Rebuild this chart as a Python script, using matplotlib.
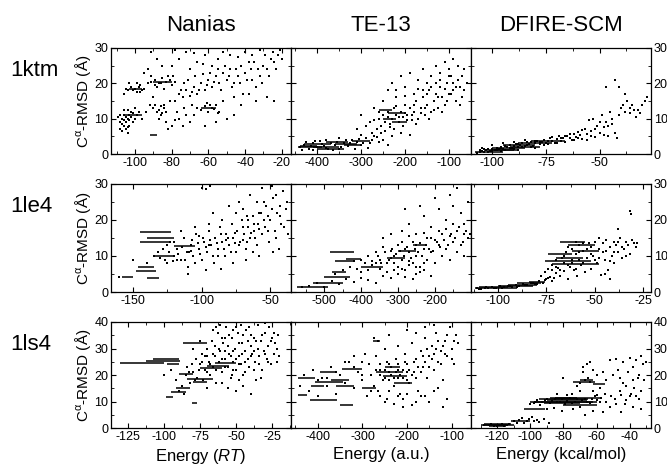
import numpy as np
import matplotlib
matplotlib.use("Agg")
import matplotlib.pyplot as plt
from matplotlib.ticker import AutoMinorLocator, MultipleLocator

plt.rcParams['font.family'] = ['Liberation Sans', 'DejaVu Sans']
plt.rcParams['mathtext.fontset'] = 'custom'
plt.rcParams['mathtext.rm'] = 'Liberation Sans'
plt.rcParams['mathtext.it'] = 'Liberation Sans:italic'
plt.rcParams['axes.unicode_minus'] = False

# column / row names
methods = ["Nanias", "TE-13", "DFIRE-SCM"]
proteins = ["1ktm", "1le4", "1ls4"]
x_titles = ["Energy ($\\it{RT}$)", "Energy (a.u.)", "Energy (kcal/mol)"]

# (energy, rmsd) decoys, streaks are (x_start, x_end, rmsd)
nanias_1ktm = [
    (-108, 7), (-107, 6.5), (-106, 8), (-105, 9), (-104, 10), (-103, 11), (-106, 11), (-108, 11),
    (-102, 12), (-104, 12.5), (-101, 9), (-100, 10), (-99, 11), (-105, 7), (-103, 8), (-107, 10),
    (-109, 10.5), (-100, 13), (-98, 12), (-106, 17), (-104, 18), (-102, 19), (-100, 18.5), (-98, 19),
    (-97, 17.5), (-103, 20), (-105, 18.5), (-99, 20), (-96, 18), (-95, 23), (-93, 24), (-91, 22),
    (-89, 21), (-87, 20), (-85, 21.5), (-83, 20.5), (-81, 21), (-79, 22), (-88, 19), (-84, 18.5),
    (-80, 19.5), (-92, 14), (-90, 13), (-88, 12), (-86, 13.5), (-84, 14), (-85, 11.5), (-87, 10),
    (-83, 9), (-80, 8), (-78, 9.5), (-76, 10), (-82, 7), (-74, 8), (-72, 11), (-70, 9), (-90, 16),
    (-94, 12), (-96, 10), (-78, 15), (-76, 17), (-74, 16), (-72, 18), (-70, 16.5), (-68, 19), (-66, 17),
    (-64, 20), (-62, 18), (-60, 21), (-58, 19), (-56, 22), (-54, 20), (-52, 23), (-50, 21), (-48, 24),
    (-46, 20), (-44, 22), (-42, 25), (-40, 23), (-38, 26), (-36, 21), (-34, 19), (-32, 22), (-30, 25),
    (-28, 24), (-26, 27), (-24, 26), (-22, 28), (-20, 27), (-80, 25), (-76, 27), (-72, 29), (-70, 24),
    (-66, 26), (-62, 28), (-58, 25), (-55, 27), (-52, 29), (-48, 28), (-44, 27.5), (-40, 29), (-36, 28),
    (-32, 29.5), (-66, 13), (-64, 12.5), (-62, 13.5), (-60, 12), (-58, 13), (-56, 14), (-54, 12),
    (-68, 11), (-52, 15), (-50, 10), (-46, 16), (-42, 14), (-38, 17), (-34, 15), (-28, 16), (-24, 15),
    (-46, 11), (-62, 8), (-56, 9),
    (-107, 8.5), (-106, 9.5), (-105, 10.5), (-104, 7.5), (-103, 9.5), (-102, 10.5), (-101, 11.5),
    (-108, 9), (-106, 12.5), (-104, 6), (-101, 18), (-99, 17.5), (-97, 19.5), (-95, 18.5), (-93, 20),
    (-91, 20.5), (-89, 19.5), (-86, 20), (-82, 22), (-78, 20.5), (-87, 12.5), (-86, 11), (-84, 13),
    (-83, 12), (-89, 14), (-75, 18), (-73, 20), (-71, 21), (-69, 17.5), (-67, 22), (-65, 18),
    (-63, 22.5), (-61, 19.5), (-59, 23), (-57, 20.5), (-55, 24), (-53, 18), (-51, 25), (-49, 22),
    (-47, 19), (-45, 24), (-43, 20), (-41, 17), (-39, 21), (-37, 24), (-35, 26), (-33, 24), (-31, 20),
    (-29, 28), (-27, 22), (-25, 29), (-23, 24), (-21, 29.5), (-81, 15), (-77, 12), (-73, 13), (-69, 14),
    (-85, 25), (-88, 27), (-91, 29), (-78, 29.5), (-68, 28.5), (-63, 25.5), (-59, 13.8), (-57, 12.6),
    (-61, 14.4), (-55, 11.5),
]
nanias_1ktm_streaks = [(-92, -88, 5.5), (-106, -96, 11), (-103, -96, 18.5), (-90, -80, 20.5), (-64, -56, 13)]

te13_1ktm = [
    (-440, 2), (-430, 2.5), (-420, 1.5), (-410, 3), (-400, 2), (-390, 2.8), (-380, 1.8), (-370, 3.2),
    (-360, 2.5), (-350, 1.5), (-340, 3), (-330, 2.2), (-320, 4), (-310, 3.5), (-300, 2.5), (-290, 4.5),
    (-280, 3), (-270, 5), (-260, 3.5), (-250, 4), (-300, 5.5), (-380, 4), (-350, 4.5), (-410, 1),
    (-425, 3.5), (-395, 3.8), (-365, 1), (-315, 1.5), (-285, 1.8), (-240, 2.5), (-290, 8), (-280, 9),
    (-275, 6), (-265, 7), (-260, 10), (-255, 8), (-250, 11), (-245, 9), (-240, 12), (-235, 7.5),
    (-230, 10), (-225, 13), (-220, 11), (-215, 9), (-210, 12), (-205, 10.5), (-200, 14), (-195, 11),
    (-190, 13), (-185, 9.5), (-180, 12), (-175, 15), (-170, 10), (-165, 13), (-160, 16), (-155, 11),
    (-150, 14), (-145, 18), (-140, 12), (-135, 15), (-130, 17), (-125, 13), (-120, 19), (-115, 16),
    (-110, 14), (-105, 20), (-100, 17), (-95, 22), (-90, 18), (-85, 15), (-80, 21), (-75, 19), (-70, 16),
    (-65, 24), (-60, 20), (-250, 15), (-240, 18), (-230, 20), (-220, 16), (-210, 22), (-200, 19),
    (-190, 23), (-180, 17), (-170, 21), (-160, 24), (-150, 20), (-140, 22), (-130, 25), (-120, 23),
    (-110, 26), (-100, 24), (-90, 27), (-80, 25), (-230, 5), (-210, 6), (-190, 5.5), (-300, 11),
    (-310, 7), (-270, 13),
    (-435, 1.2), (-415, 2.2), (-405, 3.6), (-385, 2.4), (-375, 1.3), (-355, 3.5), (-345, 2.0),
    (-335, 4.0), (-325, 3.0), (-305, 4.2), (-295, 3.2), (-275, 4.0), (-265, 4.8), (-255, 6.0),
    (-245, 6.5), (-235, 8.5), (-225, 7), (-215, 10.5), (-205, 8), (-195, 9.5), (-185, 11), (-175, 8.5),
    (-165, 11.5), (-155, 13), (-145, 10), (-135, 12.5), (-125, 16), (-115, 12), (-105, 15), (-95, 17),
    (-85, 19), (-75, 14), (-65, 18), (-270, 9.5), (-260, 12), (-240, 10.5), (-220, 13.5), (-200, 11.5),
    (-180, 14), (-160, 18), (-140, 19), (-120, 21), (-100, 22), (-200, 16.5), (-220, 18), (-170, 18.5),
    (-150, 17), (-130, 20), (-110, 18.5), (-90, 20), (-70, 22),
]
te13_1ktm_streaks = [(-445, -390, 2), (-430, -370, 2.8), (-400, -340, 1.5), (-380, -330, 3.3),
                     (-340, -300, 2.5), (-320, -280, 3.8), (-250, -220, 10), (-240, -200, 11.5),
                     (-230, -195, 9), (-260, -230, 12.5), (-440, -400, 2.4), (-410, -350, 1.9),
                     (-360, -310, 2.9)]

dfire_1ktm = [
    (-107, 0.3), (-106, 0.6), (-105, 0.8), (-104, 0.5), (-103, 1.0), (-102, 1.3), (-101, 0.9), (-100, 1.5),
    (-99, 1.2), (-98, 1.8), (-97, 1.5), (-96, 2.0), (-95, 1.4), (-94, 2.2), (-93, 1.9), (-92, 2.5),
    (-91, 1.7), (-90, 2.3), (-89, 2.8), (-88, 2.0), (-87, 2.6), (-86, 3.0), (-85, 2.2), (-84, 3.3),
    (-83, 2.7), (-82, 3.5), (-81, 2.4), (-80, 3.0), (-79, 3.8), (-78, 2.9), (-77, 3.4), (-76, 4.0),
    (-75, 3.2), (-74, 2.8), (-73, 4.5), (-72, 3.6), (-71, 3.0), (-70, 4.2), (-69, 5.0), (-68, 3.8),
    (-67, 4.6), (-66, 3.4), (-65, 5.2), (-64, 4.4), (-63, 3.9), (-62, 5.8), (-61, 4.8), (-60, 6.2),
    (-59, 5.5), (-58, 4.2), (-57, 7.0), (-56, 5.8), (-55, 9.5), (-54, 6.5), (-53, 10), (-52, 4.8),
    (-51, 8), (-50, 6), (-49, 11), (-48, 7.5), (-47, 9), (-46, 5), (-45, 12), (-44, 8.5), (-43, 6),
    (-42, 4.5), (-41, 11), (-40, 13), (-39, 14), (-38, 12), (-37, 15), (-36, 11.5), (-35, 14),
    (-34, 12.5), (-33, 10.5), (-31, 11.5), (-29, 15), (-28, 16), (-43, 21), (-41, 19), (-47, 19),
    (-38, 17), (-105, 1.8), (-100, 2.6), (-95, 3.0), (-90, 3.5), (-85, 4.0), (-96, 0.8), (-88, 1.2),
    (-80, 1.8),
    (-106, 1.2), (-104, 1.5), (-102, 0.6), (-100, 0.8), (-98, 1.0), (-96, 1.6), (-94, 1.2), (-92, 1.8),
    (-90, 1.4), (-88, 2.8), (-86, 2.0), (-84, 2.5), (-82, 2.0), (-80, 3.8), (-78, 3.5), (-76, 2.6),
    (-74, 3.6), (-72, 4.8), (-70, 3.2), (-68, 4.6), (-66, 5.0), (-64, 5.6), (-62, 4.0), (-60, 4.5),
    (-58, 6.8), (-56, 4.0), (-54, 5.0), (-52, 7.0), (-50, 9.0), (-48, 5.5), (-46, 8.0), (-44, 10),
    (-36, 13), (-32, 12.5), (-30, 14),
]
dfire_1ktm_streaks = [(-108, -95, 0.5), (-104, -90, 1.2), (-100, -85, 1.8), (-95, -80, 2.5), (-88, -72, 3.2),
                      (-100, -88, 1.0), (-92, -78, 2.0), (-82, -66, 3.6)]

nanias_1le4 = [
    (-160, 4.3), (-150, 9), (-140, 8), (-135, 10), (-130, 9.5), (-128, 12), (-125, 8), (-123, 14),
    (-120, 10), (-118, 12), (-115, 9), (-113, 15), (-111, 11), (-110, 7), (-108, 13), (-106, 10),
    (-104, 16), (-102, 12), (-100, 9), (-98, 14), (-96, 11), (-95, 17), (-93, 13), (-91, 8), (-90, 15),
    (-88, 12), (-87, 18), (-85, 14), (-83, 10), (-82, 16), (-80, 13), (-78, 19), (-77, 15), (-75, 11),
    (-74, 17), (-72, 14), (-71, 20), (-69, 16), (-68, 12), (-66, 18), (-65, 15), (-63, 21), (-62, 17),
    (-60, 13), (-59, 19), (-57, 22), (-56, 16), (-54, 18), (-53, 24), (-51, 14), (-50, 20), (-48, 26),
    (-47, 17), (-45, 22), (-44, 12), (-42, 19), (-41, 28), (-39, 23), (-37, 16), (-60, 25), (-65, 27),
    (-70, 23), (-56, 29), (-49, 29.5), (-75, 22), (-80, 24), (-92, 22), (-110, 5), (-97, 6), (-115, 17),
    (-86, 6.5), (-77, 8), (-68, 9), (-58, 10), (-48, 11), (-100, 29), (-97, 28.5), (-94, 29.5),
    (-120, 14), (-105, 18), (-95, 19), (-85, 20), (-63, 11), (-73, 25), (-67, 21), (-52, 21), (-55, 25),
    (-46, 27), (-43, 24),
    (-132, 11), (-127, 9), (-124, 11), (-121, 8.5), (-117, 10.5), (-114, 12.5), (-112, 9), (-109, 11),
    (-107, 14.5), (-105, 8), (-103, 13.5), (-101, 10.5), (-99, 15), (-97, 12.5), (-94, 14.5), (-92, 10),
    (-89, 13.5), (-86, 16), (-84, 12), (-81, 15), (-79, 11), (-76, 16.5), (-73, 13), (-70, 18), (-67, 14),
    (-64, 16.5), (-61, 15), (-58, 17.5), (-55, 20), (-52, 17), (-49, 23), (-46, 15), (-43, 21), (-40, 18),
    (-38, 25), (-58, 22), (-62, 19), (-66, 20), (-70, 14.5), (-76, 13.5), (-82, 14.5), (-88, 10),
    (-95, 13), (-102, 15.5), (-108, 11.5), (-118, 9), (-125, 13),
]
nanias_1le4_streaks = [(-145, -122, 16.7), (-140, -120, 15), (-145, -122, 13.9), (-146, -135, 7),
                       (-148, -133, 5.9), (-158, -150, 4.3), (-140, -131, 3.9), (-120, -105, 12.8),
                       (-135, -120, 10)]

te13_1le4 = [
    (-560, 1.4), (-540, 1.8), (-520, 2.5), (-500, 1.5), (-480, 3), (-460, 2.2), (-440, 3.5), (-420, 2.8),
    (-400, 4), (-380, 3.2), (-360, 2.5), (-340, 4.5), (-320, 3.8), (-300, 5), (-280, 4.2), (-260, 3.5),
    (-240, 5.5), (-470, 5), (-450, 6), (-430, 7), (-410, 6.5), (-390, 8), (-370, 7.5), (-350, 9),
    (-330, 8), (-310, 10), (-290, 9), (-270, 11), (-250, 10), (-230, 12), (-210, 11), (-190, 13),
    (-170, 12), (-150, 14), (-130, 13), (-110, 15), (-360, 11), (-340, 12.5), (-320, 11.5), (-300, 13),
    (-280, 12), (-260, 14), (-240, 13.5), (-220, 15), (-200, 14.5), (-180, 16), (-160, 15.5), (-140, 17),
    (-120, 16), (-100, 18), (-300, 7), (-280, 6), (-260, 8), (-240, 7), (-220, 9), (-200, 8), (-180, 10),
    (-160, 9), (-140, 11), (-120, 10), (-100, 12), (-290, 17), (-270, 19), (-250, 16), (-230, 21),
    (-210, 18), (-190, 23), (-170, 20), (-150, 24), (-130, 22), (-110, 25), (-120, 19), (-100, 21),
    (-280, 23), (-240, 24), (-200, 26), (-160, 27), (-140, 29), (-320, 16), (-340, 15), (-380, 10),
    (-400, 9), (-420, 8.5), (-310, 6), (-330, 5.5), (-350, 6.5), (-270, 7.5), (-250, 5), (-230, 6),
    (-210, 4.5),
    (-370, 8.5), (-355, 10), (-345, 8), (-335, 11), (-325, 9), (-315, 12), (-305, 10.5), (-295, 11.5),
    (-285, 10), (-275, 12.5), (-265, 9.5), (-255, 12), (-245, 11), (-235, 10), (-225, 13), (-215, 12),
    (-205, 11.5), (-195, 14), (-185, 12.5), (-175, 14.5), (-165, 13), (-155, 16), (-145, 15), (-135, 18),
    (-125, 14), (-115, 17), (-105, 16), (-290, 14), (-270, 15.5), (-250, 13), (-230, 16.5), (-210, 15),
    (-190, 17), (-170, 17.5), (-150, 19), (-310, 8), (-290, 6.5), (-270, 8.5), (-250, 7), (-230, 8),
    (-320, 9.5), (-360, 8), (-380, 6), (-400, 5.5),
]
te13_1le4_streaks = [(-575, -490, 1.3), (-530, -450, 2.6), (-500, -430, 4.3), (-485, -420, 11),
                     (-470, -420, 8.5), (-440, -400, 9.3), (-400, -340, 7), (-330, -280, 9.5),
                     (-300, -250, 11.5), (-260, -220, 13), (-480, -440, 5.5)]

dfire_1le4 = [
    (-111, 1.0), (-109, 0.8), (-107, 1.2), (-105, 1.0), (-103, 1.4), (-101, 1.1), (-99, 1.6), (-97, 1.3),
    (-95, 1.8), (-93, 1.5), (-91, 2.0), (-89, 1.7), (-87, 2.3), (-85, 1.9), (-83, 2.6), (-81, 2.1),
    (-79, 3.0), (-78, 4.5), (-77, 2.6), (-76, 5.5), (-75, 3.5), (-74, 6.5), (-73, 4.2), (-72, 7.5),
    (-71, 3.8), (-70, 5.2), (-69, 6.8), (-68, 4.5), (-67, 9.5), (-66, 5.8), (-65, 11), (-64, 3.6),
    (-63, 7), (-62, 12), (-61, 6), (-60, 10.5), (-59, 4.5), (-58, 13), (-57, 7.5), (-56, 11.5),
    (-55, 5.5), (-54, 9.5), (-53, 13.5), (-52, 6.5), (-51, 10), (-50, 14), (-49, 8), (-48, 12),
    (-47, 4.8), (-46, 11), (-45, 9), (-44, 14.5), (-43, 6), (-42, 12.5), (-41, 10), (-40, 8), (-39, 13),
    (-38, 11), (-37, 15), (-36, 9.5), (-35, 12), (-34, 14), (-33, 13), (-32, 10.5), (-31, 14.5),
    (-29, 12.5), (-28, 13.5), (-32, 22.5), (-31.5, 21.8), (-38, 17.5), (-45, 5), (-42, 3.5), (-40, 14),
    (-48, 15), (-62, 9), (-70, 9), (-72, 6), (-66, 8),
    (-110, 0.7), (-106, 1.3), (-102, 1.0), (-98, 1.2), (-94, 1.6), (-90, 1.5), (-86, 2.0), (-82, 2.4),
    (-80, 2.2), (-76, 3.2), (-74, 4.0), (-72, 3.0), (-70, 7), (-68, 6), (-66, 10), (-64, 7.5), (-62, 8),
    (-60, 6.5), (-58, 9), (-56, 8), (-54, 12), (-52, 10.5), (-50, 9), (-48, 9.5), (-46, 13.5),
    (-44, 11.5), (-42, 8.5), (-40, 11), (-38, 14), (-36, 12.5), (-34, 10), (-30, 13.5), (-64, 12.5),
    (-60, 14), (-56, 13.5), (-52, 12.5), (-58, 11),
]
dfire_1le4_streaks = [(-112, -90, 1.0), (-100, -82, 1.8), (-90, -78, 2.5), (-76, -52, 8.5),
                      (-72, -48, 7.8), (-70, -56, 9.5), (-68, -55, 14), (-64, -50, 13),
                      (-62, -48, 11.5), (-74, -62, 10.5), (-110, -95, 1.3), (-95, -80, 2.0),
                      (-84, -76, 2.8)]

nanias_1ls4 = [
    (-100, 20), (-95, 22), (-92, 18), (-90, 14), (-88, 16), (-86, 13), (-85, 20), (-84, 23), (-82, 17),
    (-80, 21), (-78, 26), (-77, 19), (-75, 24), (-74, 28), (-73, 18), (-72, 22), (-70, 30), (-69, 25),
    (-68, 20), (-67, 33), (-66, 23), (-65, 27), (-64, 17), (-63, 36), (-62, 25), (-61, 29), (-60, 21),
    (-59, 32), (-58, 26), (-57, 38), (-56, 23), (-55, 28), (-54, 19), (-53, 34), (-52, 25), (-51, 30),
    (-50, 22), (-49, 36), (-48, 27), (-47, 24), (-46, 32), (-45, 20), (-44, 29), (-43, 37), (-42, 26),
    (-41, 23), (-40, 31), (-39, 28), (-38, 34), (-37, 25), (-36, 18), (-35, 30), (-34, 27), (-33, 33),
    (-32, 22), (-31, 29), (-30, 36), (-29, 26), (-28, 31), (-27, 38), (-26, 24), (-25, 34), (-24, 28),
    (-23, 32), (-22, 30), (-21, 35), (-20, 27), (-56, 15), (-50, 14), (-45, 16), (-40, 13), (-60, 17),
    (-70, 15), (-52, 37), (-47, 39), (-41, 38), (-35, 39), (-30, 39.5), (-75, 33), (-80, 30), (-66, 37),
    (-61, 39), (-58, 34), (-53, 20), (-44, 21), (-38, 22), (-33, 19), (-48, 18),
    (-83, 21), (-81, 24), (-79, 18), (-76, 22), (-74, 25), (-72, 27), (-70, 21), (-68, 24), (-66, 28),
    (-64, 22), (-62, 30), (-60, 26), (-58, 23), (-56, 31), (-54, 27), (-52, 29), (-50, 26), (-48, 32),
    (-46, 28), (-44, 25), (-42, 33), (-40, 27), (-38, 29), (-36, 33), (-34, 24), (-32, 35), (-30, 28),
    (-28, 25), (-26, 33), (-24, 36), (-22, 25), (-55, 35), (-50, 38), (-45, 35), (-40, 35), (-65, 31),
    (-60, 34), (-70, 27), (-64, 38), (-58, 29), (-52, 22), (-48, 24),
]
nanias_1ls4_streaks = [(-131, -100, 24.5), (-113, -89, 25.2), (-108, -90, 26), (-98, -90, 24),
                       (-87, -70, 32), (-99, -94, 11.6), (-95, -85, 13.5), (-92, -82, 15),
                       (-90, -80, 20.5), (-84, -66, 18.5), (-80, -70, 17.5), (-81, -77, 9.6),
                       (-70, -55, 23.5), (-75, -60, 22.5), (-65, -50, 24.5)]

te13_1ls4 = [
    (-440, 16), (-430, 20), (-420, 14), (-410, 22), (-400, 12), (-390, 19), (-380, 16), (-370, 23),
    (-360, 13), (-350, 20), (-340, 17), (-330, 25), (-320, 15), (-310, 21), (-300, 18), (-295, 28),
    (-290, 12), (-285, 24), (-280, 20), (-275, 16), (-270, 27), (-265, 14), (-260, 22), (-255, 18),
    (-250, 30), (-245, 11), (-240, 24), (-235, 20), (-230, 16), (-225, 26), (-220, 22), (-215, 13),
    (-210, 19), (-205, 28), (-200, 24), (-195, 17), (-190, 32), (-185, 21), (-180, 26), (-175, 14),
    (-170, 29), (-165, 23), (-160, 34), (-155, 19), (-150, 27), (-145, 31), (-140, 22), (-135, 36),
    (-130, 25), (-125, 29), (-120, 18), (-115, 33), (-110, 27), (-105, 38), (-100, 30), (-95, 24),
    (-90, 35), (-85, 32), (-250, 10), (-230, 9), (-210, 11), (-190, 8.5), (-170, 12), (-150, 10),
    (-130, 15), (-110, 11), (-120, 8), (-265, 33), (-275, 34), (-300, 25), (-320, 27), (-240, 35),
    (-220, 31), (-200, 37), (-180, 36), (-160, 38), (-140, 39), (-210, 8), (-260, 20), (-240, 18),
    (-220, 19), (-200, 21), (-250, 22),
    (-270, 22), (-260, 24), (-250, 19), (-245, 25), (-240, 21), (-235, 23), (-230, 19), (-225, 21),
    (-220, 24), (-215, 20), (-210, 22), (-205, 25), (-200, 18), (-195, 22), (-190, 20), (-185, 25),
    (-180, 19), (-175, 23), (-170, 21), (-165, 27), (-160, 25), (-155, 30), (-150, 23), (-145, 26),
    (-140, 28), (-135, 30), (-130, 33), (-125, 24), (-120, 31), (-115, 28), (-110, 35), (-100, 26),
    (-95, 33), (-280, 14), (-260, 12), (-240, 14), (-220, 12), (-200, 13), (-180, 10), (-160, 12),
    (-140, 14), (-300, 20), (-320, 23), (-340, 25), (-360, 21), (-380, 19), (-400, 18),
]
te13_1ls4_streaks = [(-444, -406, 18.7), (-444, -425, 12.4), (-417, -357, 10.5), (-406, -343, 17.5),
                     (-415, -385, 15.7), (-394, -357, 21.3), (-350, -321, 8.7), (-346, -300, 22.3),
                     (-370, -330, 18), (-276, -260, 33), (-270, -210, 21), (-255, -200, 19.5),
                     (-250, -215, 23), (-230, -190, 17), (-360, -320, 16), (-300, -270, 15)]

dfire_1ls4 = [
    (-125, 1.0), (-122, 0.8), (-119, 1.2), (-116, 0.9), (-113, 1.5), (-110, 2.5), (-107, 3), (-104, 2),
    (-101, 3.5), (-98, 2.8), (-95, 2.2), (-92, 3.3), (-89, 1.8), (-100, 9), (-97, 10), (-94, 8.5),
    (-91, 10.5), (-88, 9.5), (-85, 11), (-82, 10), (-79, 9), (-76, 11.5), (-73, 10), (-70, 8), (-67, 11),
    (-64, 9.5), (-61, 12), (-58, 10), (-55, 13), (-52, 8), (-49, 11), (-46, 14), (-43, 9), (-40, 12),
    (-37, 15), (-34, 11), (-31, 18), (-54, 18), (-50, 20), (-47, 22), (-44, 17), (-41, 21), (-38, 23),
    (-35, 19), (-32, 24), (-52, 25.5), (-48, 26), (-44, 25), (-40, 26.5), (-36, 25.5), (-33, 27),
    (-30, 25), (-66, 24), (-64, 25), (-68, 21), (-65, 19), (-72, 16), (-70, 14), (-62, 14), (-58, 15),
    (-60, 20), (-56, 6), (-62, 6.5), (-67, 5), (-75, 13), (-78, 12.5), (-84, 13), (-90, 7), (-86, 7.5),
    (-81, 6.5), (-74, 7), (-80, 19), (-60, 12.5), (-45, 6), (-38, 8), (-33, 7),
    (-128, 1.2), (-124, 1.5), (-120, 0.6), (-117, 1.6), (-114, 1.2), (-108, 2), (-105, 3.8), (-102, 2.5),
    (-99, 4), (-96, 3), (-98, 9.5), (-96, 10.5), (-93, 9.8), (-90, 11), (-87, 10.3), (-84, 9.8),
    (-81, 11), (-78, 10.2), (-75, 9.5), (-72, 11), (-69, 10.5), (-66, 9.8), (-63, 11), (-60, 10.5),
    (-57, 11.5), (-54, 10), (-51, 12), (-48, 9), (-45, 12.5), (-42, 10.5), (-39, 13), (-36, 12),
    (-33, 14), (-70, 17), (-67, 18), (-64, 17.5), (-68, 23), (-62, 22), (-56, 21), (-46, 19), (-42, 16),
    (-38, 18), (-34, 20),
]
dfire_1ls4_streaks = [(-130, -110, 1.0), (-128, -112, 1.6), (-125, -115, 0.6), (-112, -100, 2.5),
                      (-104, -91, 7), (-100, -60, 10), (-95, -65, 10.8), (-92, -70, 9.3),
                      (-85, -58, 11.5), (-80, -60, 8.6), (-74, -61, 17.5), (-70, -62, 18.3),
                      (-62, -55, 16.5), (-98, -62, 9.7), (-90, -66, 10.4), (-88, -72, 11.2),
                      (-128, -114, 1.3)]

# axis ranges and tick steps per panel
x_limits = [[(-113, -15), (-460, -50), (-110, -26)],
            [(-166, -35), (-590, -102), (-114, -21)],
            [(-137, -12), (-460, -57), (-136, -27)]]
x_steps = [[20, 100, 25], [50, 100, 25], [25, 100, 20]]
y_max = [30, 30, 40]

points = [[nanias_1ktm, te13_1ktm, dfire_1ktm],
          [nanias_1le4, te13_1le4, dfire_1le4],
          [nanias_1ls4, te13_1ls4, dfire_1ls4]]
streaks = [[nanias_1ktm_streaks, te13_1ktm_streaks, dfire_1ktm_streaks],
           [nanias_1le4_streaks, te13_1le4_streaks, dfire_1le4_streaks],
           [nanias_1ls4_streaks, te13_1ls4_streaks, dfire_1ls4_streaks]]

W, H = 667, 469
fig = plt.figure(figsize=(W / 100, H / 100), dpi=100)
col_left = [111, 291, 471]
col_w = 180
row_top = [48, 184, 322]
row_h = [106, 108, 106]

for r in range(3):
    for c in range(3):
        ax = fig.add_axes([col_left[c] / W, 1 - (row_top[r] + row_h[r]) / H, col_w / W, row_h[r] / H])
        pts = np.array(points[r][c])
        ax.scatter(pts[:, 0], pts[:, 1], s=4, marker='s', color='black', linewidths=0)
        st = np.array(streaks[r][c])
        ax.hlines(st[:, 2], st[:, 0], st[:, 1], color='black', lw=1.1)
        ax.set_xlim(*x_limits[r][c])
        ax.set_ylim(0, y_max[r])
        ax.xaxis.set_major_locator(MultipleLocator(x_steps[r][c]))
        ax.yaxis.set_major_locator(MultipleLocator(10))
        ax.xaxis.set_minor_locator(AutoMinorLocator(2))
        ax.yaxis.set_minor_locator(AutoMinorLocator(2))
        ax.tick_params(which='both', direction='in', top=True, right=True, labelsize=9, pad=2)
        ax.tick_params(which='major', length=3.5, width=0.8)
        ax.tick_params(which='minor', length=2, width=0.6)
        for s in ax.spines.values():
            s.set_linewidth(0.9)
        if c == 0:
            ax.set_ylabel("C$^{\\mathrm{\\alpha}}$-RMSD (Å)", fontsize=11, labelpad=1)
        elif c == 1:
            ax.tick_params(labelleft=False)
        else:
            ax.tick_params(labelleft=False, labelright=True)
        if r == 0:
            ax.set_title(methods[c], fontsize=16, pad=12)
        if r == 2:
            ax.set_xlabel(x_titles[c], fontsize=12, labelpad=3)
    fig.text(10 / W, 1 - (row_top[r] + 22) / H, proteins[r], fontsize=16, ha='left', va='center')

fig.savefig("out.png", dpi=100)
